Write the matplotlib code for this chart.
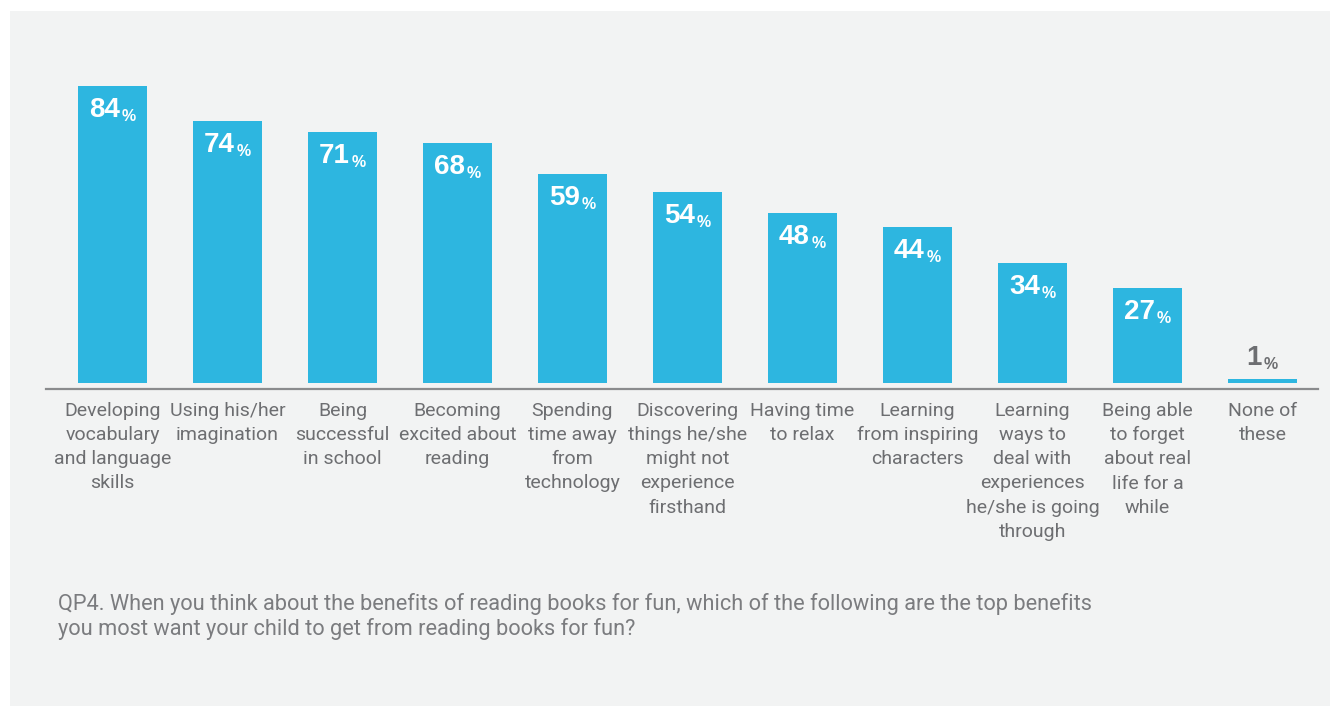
import matplotlib
matplotlib.use("Agg")
import matplotlib.pyplot as plt
import matplotlib.transforms as mtransforms
from matplotlib.patches import Rectangle

categories = [
    "Developing\nvocabulary\nand language\nskills",
    "Using his/her\nimagination",
    "Being\nsuccessful\nin school",
    "Becoming\nexcited about\nreading",
    "Spending\ntime away\nfrom\ntechnology",
    "Discovering\nthings he/she\nmight not\nexperience\nfirsthand",
    "Having time\nto relax",
    "Learning\nfrom inspiring\ncharacters",
    "Learning\nways to\ndeal with\nexperiences\nhe/she is going\nthrough",
    "Being able\nto forget\nabout real\nlife for a\nwhile",
    "None of\nthese",
]
values = [84, 74, 71, 68, 59, 54, 48, 44, 34, 27, 1]
footnote = ("QP4. When you think about the benefits of reading books for fun, which of the following are the top benefits\n"
            "you most want your child to get from reading books for fun?")

BAR = "#2db6e0"
GRAY = "#6d6e71"
NARROW = ["Roboto", "DejaVu Sans"]
BOLD = ["Liberation Sans", "DejaVu Sans"]

W, H = 1338, 706
fig = plt.figure(figsize=(W / 100, H / 100), dpi=100, facecolor="white")
bg = Rectangle((10 / W, 0), (1330 - 10) / W, (706 - 11) / H,
               transform=fig.transFigure, facecolor="#f2f3f3",
               edgecolor="none", zorder=-10)
fig.patches.append(bg)

ppu = 297 / 84.0
ymin = -6 / ppu
ymax = 100
base_px = 389
ax_h = (ymax - ymin) * ppu
ax = fig.add_axes([46 / W, (H - base_px) / H, (1318 - 46) / W, ax_h / H])
ax.set_zorder(1)
ax.set_facecolor("none")
x = list(range(len(values)))
ax.bar(x, values, width=0.6, color=BAR, zorder=2)
ax.set_xlim((46 - 112.5) / 115, (1318 - 112.5) / 115)
ax.set_ylim(ymin, ymax)
for s in ax.spines.values():
    s.set_visible(False)
ax.set_xticks([])
ax.set_yticks([])
ax.axhline(ymin, color="#8a8b8d", lw=1.6, zorder=3, clip_on=False)

# value labels: bold number plus smaller percent sign
fig.canvas.draw()
renderer = fig.canvas.get_renderer()
for xi, v in zip(x, values):
    inside = v > 10
    col = "white" if inside else GRAY
    dy = -11 if inside else 8
    va = "top" if inside else "bottom"
    tn = ax.text(xi, v, str(v), ha="center", va=va, color=col, fontsize=20,
                 fontweight="bold", family=BOLD, zorder=4)
    tp = ax.text(xi, v, "%", ha="left", va="bottom", color=col, fontsize=11.5,
                 fontweight="bold", family=BOLD, zorder=4)
    fig.canvas.draw()
    wp = tp.get_window_extent(renderer).width
    shift = -(wp + 2) / 2
    tn.set_transform(mtransforms.offset_copy(ax.transData, fig, x=shift, y=dy, units="dots"))
    fig.canvas.draw()
    bn = tn.get_window_extent(renderer)
    c = ax.transData.transform((xi, v))
    tp.set_transform(mtransforms.offset_copy(ax.transData, fig,
                                             x=bn.x1 + 2 - c[0], y=bn.y0 - 1 - c[1],
                                             units="dots"))

# category labels
for xi, c in zip(x, categories):
    fx = (ax.transData.transform((xi, 0))[0]) / W
    fig.text(fx, 1 - 402 / H, c, ha="center", va="top", color=GRAY, fontsize=14,
             family=NARROW, linespacing=1.44)

fig.text(58 / W, 1 - 593 / H, footnote, ha="left", va="top", color="#7b7c7f",
         fontsize=15.7, family=NARROW, linespacing=1.18)

fig.savefig("out.png", dpi=100, facecolor="white")
